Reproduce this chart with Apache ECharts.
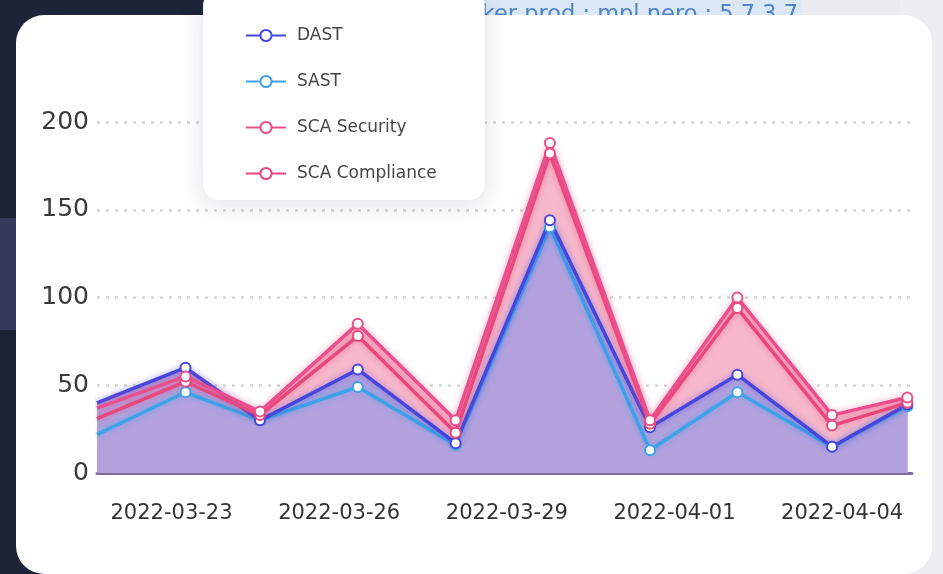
<!DOCTYPE html>
<html>
<head>
<meta charset="utf-8">
<title>Scans</title>
<script src="https://cdn.jsdelivr.net/npm/echarts@6/dist/echarts.min.js"></script>
<style>
  html, body { margin: 0; padding: 0; background: #1e2438; }
  #chart { width: 943px; height: 574px; }
</style>
</head>
<body>
<div id="chart"></div>
<script>
// scan dates (x) and findings per scanner
const scanTimes = ['2022-03-21 16:00', '2022-03-23 06:00', '2022-03-24 14:00', '2022-03-26 08:00', '2022-03-28 02:00',
    '2022-03-29 18:30', '2022-03-31 13:30', '2022-04-02 03:00', '2022-04-03 19:40', '2022-04-05 04:00']
const dast = [40, 60, 30, 59, 17, 144, 26, 56, 15, 39]
const sast = [22, 46, 30, 49, 16, 140, 13, 46, 15, 38]
const scaSecurity = [37, 55, 35, 85, 30, 188, 30, 100, 33, 43]
const scaCompliance = [31, 52, 33, 78, 23, 182, 28, 94, 27, 40]
const xTickLabels = ['2022-03-23', '2022-03-26', '2022-03-29', '2022-04-01', '2022-04-04']
const legendNames = ['DAST', 'SAST', 'SCA Security', 'SCA Compliance']

const styles = {
    'DAST': { color: '#4646dc', fill: '#b3a1de' },
    'SAST': { color: '#3ea2e8', fill: '#b3a1de' },
    'SCA Security': { color: '#ea4f8b', fill: '#f7b8cb' },
    'SCA Compliance': { color: '#e8487c', fill: '#f7b8cb' }
}
const valuesByName = {
    'DAST': dast,
    'SAST': sast,
    'SCA Security': scaSecurity,
    'SCA Compliance': scaCompliance
}

const toMs = d => echarts.time.parse(d).getTime()

const points = (name, hideFirst) => valuesByName[name].map((v, i) =>
    i === 0 && hideFirst ? { value: [toMs(scanTimes[i]), v], symbol: 'none' } : [toMs(scanTimes[i]), v])

const lineSeries = name => ({
    name,
    type: 'line',
    z: 3,
    data: points(name, true),
    symbol: 'emptyCircle',
    symbolSize: 10,
    color: styles[name].color,
    itemStyle: { borderWidth: 2.5 },
    lineStyle: { width: 3.5, shadowBlur: 6, shadowColor: styles[name].color + '88' }
})

// fills drawn under every line
const areaSeries = name => ({
    name,
    type: 'line',
    z: 2,
    silent: true,
    data: points(name, false),
    symbol: 'none',
    color: styles[name].color,
    lineStyle: { width: 0 },
    areaStyle: { color: styles[name].fill, opacity: 1 }
})

const chart = echarts.init(document.getElementById('chart'))
chart.setOption({
    animation: false,
    backgroundColor: '#1e2438',
    graphic: [
        { type: 'rect', z: -15, shape: { x: 0, y: 218, width: 20, height: 112 }, style: { fill: '#323a58' } },
        { type: 'rect', z: -14, shape: { x: 480, y: 0, width: 463, height: 40 }, style: { fill: '#e9ebef' } },
        { type: 'rect', z: -14, shape: { x: 900, y: 0, width: 43, height: 574 }, style: { fill: '#eceef1' } },
        { type: 'rect', z: -13, shape: { x: 480, y: 0, width: 322, height: 20 }, style: { fill: '#dce8f6' } },
        {
            type: 'text', z: -12,
            style: {
                text: 'docker prod : mpl.nero : 5.7.3.7', x: 798, y: 4, align: 'right', verticalAlign: 'top',
                font: '22.5px "DejaVu Sans"', fill: '#4f84c6'
            }
        },
        { type: 'rect', z: -10, shape: { x: 16, y: 15, width: 916, height: 559, r: 28 }, style: { fill: '#ffffff' } }
    ],
    legend: {
        data: legendNames,
        orient: 'vertical',
        left: 203,
        top: -10,
        padding: [37, 48, 18, 42],
        itemGap: 29,
        itemWidth: 40,
        itemHeight: 14,
        backgroundColor: '#ffffff',
        borderRadius: 16,
        shadowBlur: 24,
        shadowColor: 'rgba(20, 30, 60, 0.14)',
        shadowOffsetY: 4,
        textStyle: { fontFamily: 'DejaVu Sans', fontSize: 17, color: '#454545', padding: [0, 0, 0, 6] }
    },
    grid: { left: 97, right: 31, top: 122, bottom: 101 },
    xAxis: {
        type: 'value',
        min: toMs(scanTimes[0]),
        max: toMs('2022-04-05 06:00'),
        axisLine: { onZero: false, lineStyle: { color: '#7a6f9a', width: 3 } },
        axisTick: { show: false },
        splitLine: { show: false },
        axisLabel: {
            customValues: xTickLabels.map(toMs),
            formatter: v => echarts.time.format(v, '{yyyy}-{MM}-{dd}', false),
            fontFamily: 'DejaVu Sans',
            fontSize: 21,
            color: '#333333',
            margin: 30
        }
    },
    yAxis: {
        type: 'value',
        min: 0,
        max: 200,
        interval: 50,
        axisLine: { show: false },
        axisTick: { show: false },
        splitLine: { lineStyle: { color: '#d6d6d6', width: 2.5, type: [3, 6] } },
        axisLabel: { fontFamily: 'DejaVu Sans', fontSize: 25, color: '#3a3a3a', margin: 8 }
    },
    series: [
        lineSeries('SAST'),
        lineSeries('DAST'),
        lineSeries('SCA Compliance'),
        lineSeries('SCA Security'),
        areaSeries('SCA Security'),
        areaSeries('SCA Compliance'),
        areaSeries('SAST'),
        areaSeries('DAST')
    ]
})
</script>
</body>
</html>
